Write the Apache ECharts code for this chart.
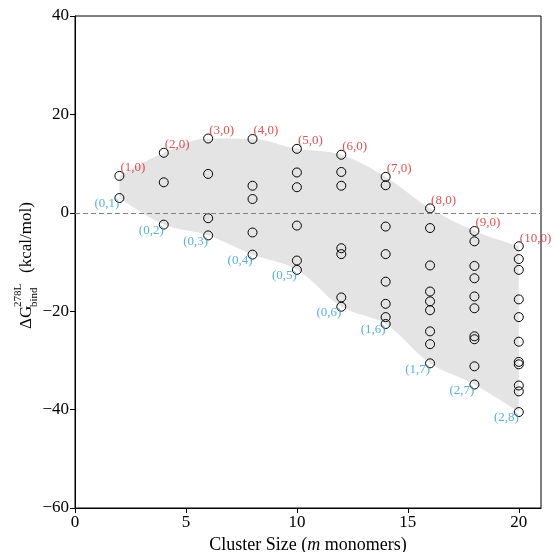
<!DOCTYPE html>
<html>
<head>
<meta charset="utf-8">
<script src="https://cdn.jsdelivr.net/npm/echarts@6/dist/echarts.min.js"></script>
<style>
  html, body { margin: 0; padding: 0; background: #fff; }
  #main { width: 555px; height: 552px; }
</style>
</head>
<body>
<div id="main"></div>
<script>
// cluster sizes (m monomers)
var sizes = [2, 4, 6, 8, 10, 12, 14, 16, 18, 20];

// binding free energies per cluster size (kcal/mol)
var dG = [
    [7.5, 3.0],
    [12.2, 6.2, -2.4],
    [15.1, 7.9, -1.1, -4.6],
    [15.0, 5.5, 2.8, -4.0, -8.5],
    [13.0, 8.2, 5.2, -2.6, -9.7, -11.6],
    [11.8, 8.3, 5.5, -7.2, -8.4, -17.2, -19.1],
    [7.3, 5.6, -2.8, -8.4, -14.0, -18.5, -21.2, -22.6],
    [0.9, -3.1, -10.7, -16.0, -18.0, -19.8, -24.1, -26.7, -30.6],
    [-3.7, -5.8, -10.8, -13.3, -17.0, -19.4, -25.1, -25.7, -31.2, -34.9],
    [-6.8, -9.4, -11.6, -17.6, -21.2, -26.2, -30.3, -30.8, -35.1, -36.3, -40.5]
];

// labels of the extreme compositions
var topLabels = ['(1,0)', '(2,0)', '(3,0)', '(4,0)', '(5,0)', '(6,0)', '(7,0)', '(8,0)', '(9,0)', '(10,0)'];
var bottomLabels = ['(0,1)', '(0,2)', '(0,3)', '(0,4)', '(0,5)', '(0,6)', '(1,6)', '(1,7)', '(2,7)', '(2,8)'];

var xMax = 21;
var xTicks = [0, 5, 10, 15, 20];
var yTicks = [-60, -40, -20, 0, 20, 40];

var SERIF = '"Liberation Serif", "Times New Roman", serif';
var RED = '#d62728';
var BLUE = '#2f9bd6';

var myChart = echarts.init(document.getElementById('main'));

// x axis as evenly spaced integer slots 0..xMax (lets the band stack on y)
var xCats = [];
for (var k = 0; k <= xMax; k++) xCats.push(String(k));

// envelope of the points for the shaded band
var upper = dG.map(function (col) { return Math.max.apply(null, col); });
var lower = dG.map(function (col) { return Math.min.apply(null, col); });

var points = [];
dG.forEach(function (col, i) {
    col.forEach(function (v) { points.push([sizes[i], v]); });
});

var topPts = sizes.map(function (x, i) {
    return { value: [x, upper[i]], label: { formatter: topLabels[i] } };
});
var botPts = sizes.map(function (x, i) {
    return { value: [x, lower[i]], label: { formatter: bottomLabels[i] } };
});

function minus(v) { return String(v).replace('-', '\u2212'); }
function isXTick(idx) { return xTicks.indexOf(idx) >= 0; }

var option = {
    animation: false,
    grid: {
        left: 75, right: 14, top: 16, bottom: 44,
        outerBoundsMode: 'none',
        show: true, borderColor: '#000', borderWidth: 1
    },
    xAxis: {
        type: 'category', data: xCats, boundaryGap: false,
        axisLine: { show: true, onZero: false, lineStyle: { color: '#000', width: 1 } },
        axisTick: { show: true, length: 5, interval: isXTick, lineStyle: { color: '#000' } },
        axisLabel: {
            color: '#000', fontFamily: SERIF, fontSize: 17, margin: 6,
            interval: isXTick
        },
        splitLine: { show: false },
        name: 'Cluster Size ({i|m} monomers)',
        nameLocation: 'middle',
        nameGap: 18,
        nameTextStyle: {
            color: '#000', fontFamily: SERIF, fontSize: 18,
            verticalAlign: 'top',
            rich: { i: { fontStyle: 'italic', fontFamily: SERIF, fontSize: 18, color: '#000' } }
        }
    },
    yAxis: {
        type: 'value', min: -60, max: 40, interval: 20,
        axisLine: { show: true, onZero: false, lineStyle: { color: '#000', width: 1 } },
        axisTick: { show: true, length: 5, lineStyle: { color: '#000' } },
        axisLabel: {
            color: '#000', fontFamily: SERIF, fontSize: 17, margin: 6,
            formatter: function (v) { return yTicks.indexOf(v) >= 0 ? minus(v) : ''; }
        },
        splitLine: { show: false }
    },
    graphic: [{
        type: 'group', x: 27, y: 264, rotation: Math.PI / 2,
        children: [
            { type: 'text', x: -65, y: 0, style: { text: '\u0394G', font: '17px ' + SERIF, fill: '#000', textAlign: 'left', textVerticalAlign: 'middle' } },
            { type: 'text', x: -43, y: -9, style: { text: '278L', font: '11px ' + SERIF, fill: '#000', textAlign: 'left', textVerticalAlign: 'middle' } },
            { type: 'text', x: -43, y: 7, style: { text: 'bind', font: '11px ' + SERIF, fill: '#000', textAlign: 'left', textVerticalAlign: 'middle' } },
            { type: 'text', x: -9, y: 0, style: { text: '(kcal/mol)', font: '17px ' + SERIF, fill: '#000', textAlign: 'left', textVerticalAlign: 'middle' } }
        ]
    }],
    series: [
        {
            // lower edge of band (invisible)
            type: 'line', stack: 'band', stackStrategy: 'all', z: 1,
            data: sizes.map(function (x, i) { return [x, lower[i]]; }),
            symbol: 'none', smooth: 0.35,
            lineStyle: { opacity: 0 }
        },
        {
            // band thickness stacked on the lower edge
            type: 'line', stack: 'band', stackStrategy: 'all', z: 1,
            data: sizes.map(function (x, i) { return [x, upper[i] - lower[i]]; }),
            symbol: 'none', smooth: 0.35,
            lineStyle: { opacity: 0 },
            areaStyle: { color: '#e4e4e4', opacity: 1 }
        },
        {
            type: 'scatter', z: 3,
            data: points,
            symbol: 'circle', symbolSize: 9,
            itemStyle: { color: 'rgba(0,0,0,0)', borderColor: '#000', borderWidth: 1, opacity: 1 },
            markLine: {
                silent: true, symbol: 'none', animation: false,
                label: { show: false },
                lineStyle: { color: '#808080', type: [5, 3], width: 1 },
                data: [{ yAxis: 0 }]
            }
        },
        {
            type: 'scatter', z: 4, symbolSize: 0, silent: true,
            data: topPts,
            label: {
                show: true, position: 'inside', offset: [1, -8],
                align: 'left', verticalAlign: 'middle',
                color: RED, fontFamily: SERIF, fontSize: 13
            }
        },
        {
            type: 'scatter', z: 4, symbolSize: 0, silent: true,
            data: botPts,
            label: {
                show: true, position: 'inside', offset: [0, 6],
                align: 'right', verticalAlign: 'middle',
                color: BLUE, fontFamily: SERIF, fontSize: 13
            }
        }
    ]
};

myChart.setOption(option);
</script>
</body>
</html>
